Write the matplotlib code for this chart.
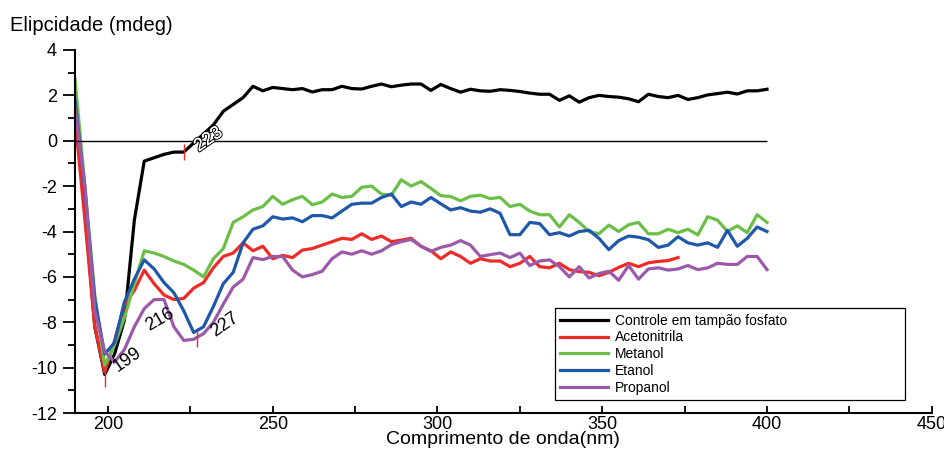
import numpy as np
import matplotlib
matplotlib.use("Agg")
import matplotlib.pyplot as plt
import matplotlib.patheffects as pe
from matplotlib.ticker import MultipleLocator

plt.rcParams['font.family'] = ['Liberation Sans', 'DejaVu Sans']
plt.rcParams['axes.unicode_minus'] = False

# wavelength grid (nm), 3 nm steps
wl = np.arange(190, 401, 3)

black = [2.0, -3.0, -8.2, -10.3, -9.4, -7.9, -3.5, -0.9, -0.75, -0.6, -0.5, -0.5, -0.1, 0.3,
         0.7, 1.3, 1.6, 1.9, 2.4, 2.2, 2.35, 2.3, 2.25, 2.3, 2.15, 2.25, 2.25, 2.4, 2.3, 2.28,
         2.4, 2.5, 2.38, 2.45, 2.5, 2.5, 2.22, 2.48, 2.3, 2.14, 2.27, 2.2, 2.18, 2.25, 2.22,
         2.17, 2.1, 2.05, 2.05, 1.78, 1.98, 1.7, 1.9, 2.0, 1.95, 1.92, 1.85, 1.72, 2.05, 1.95,
         1.9, 2.0, 1.82, 1.9, 2.02, 2.08, 2.14, 2.06, 2.2, 2.2, 2.27]
red = [1.0, -3.5, -8.2, -10.2, -8.8, -7.25, -6.6, -5.7, -6.3, -6.8, -7.0, -6.95, -6.5, -6.25,
       -5.6, -5.1, -4.95, -4.5, -4.85, -4.65, -5.2, -5.05, -5.15, -4.82, -4.75, -4.6, -4.45,
       -4.3, -4.35, -4.1, -4.35, -4.2, -4.45, -4.38, -4.3, -4.65, -4.85, -5.2, -4.9, -5.1,
       -5.4, -5.2, -5.3, -5.3, -5.55, -5.4, -5.1, -5.55, -5.6, -5.4, -5.68, -5.77, -5.8,
       -5.95, -5.8, -5.58, -5.4, -5.55, -5.38, -5.32, -5.28, -5.15]
green = [2.7, -2.0, -6.8, -9.9, -9.0, -7.8, -6.3, -4.85, -4.95, -5.1, -5.3, -5.45, -5.7, -6.0,
         -5.2, -4.75, -3.6, -3.35, -3.05, -2.9, -2.45, -2.8, -2.6, -2.45, -2.82, -2.7, -2.35,
         -2.5, -2.45, -2.05, -2.0, -2.35, -2.4, -1.72, -2.0, -1.8, -2.1, -2.42, -2.46, -2.65,
         -2.45, -2.4, -2.55, -2.5, -2.9, -2.8, -3.1, -3.26, -3.26, -3.8, -3.26, -3.6, -4.0,
         -4.1, -3.72, -4.0, -3.7, -3.6, -4.1, -4.1, -3.9, -4.05, -3.9, -4.15, -3.35, -3.5,
         -4.0, -3.75, -4.05, -3.26, -3.6]
blue = [1.8, -2.2, -7.0, -9.4, -8.9, -7.1, -6.1, -5.25, -5.65, -6.25, -6.7, -7.5, -8.45, -8.2,
        -7.3, -6.3, -5.8, -4.5, -3.9, -3.75, -3.35, -3.45, -3.4, -3.57, -3.3, -3.3, -3.4,
        -3.1, -2.8, -2.75, -2.75, -2.5, -2.35, -2.9, -2.7, -2.8, -2.5, -2.78, -3.05, -2.95,
        -3.1, -3.15, -3.0, -3.2, -4.14, -4.14, -3.6, -3.65, -4.14, -4.05, -4.2, -4.0, -3.95,
        -4.3, -4.8, -4.4, -4.2, -4.25, -4.36, -4.7, -4.6, -4.23, -4.5, -4.6, -4.5, -4.7,
        -3.95, -4.65, -4.3, -3.8, -4.0]
purple = [1.5, -2.0, -7.5, -9.3, -9.75, -9.2, -8.2, -7.4, -7.0, -7.0, -8.2, -8.8, -8.75, -8.5,
          -8.0, -7.2, -6.45, -6.1, -5.15, -5.24, -5.1, -5.1, -5.7, -6.0, -5.9, -5.75, -5.2,
          -4.9, -5.0, -4.85, -5.0, -4.85, -4.58, -4.45, -4.35, -4.65, -4.88, -4.7, -4.6,
          -4.4, -4.6, -5.1, -5.02, -4.95, -5.15, -4.95, -5.5, -5.3, -5.25, -5.55, -6.0, -5.55,
          -6.05, -5.85, -5.75, -6.15, -5.5, -6.1, -5.65, -5.6, -5.7, -5.65, -5.5, -5.68,
          -5.6, -5.4, -5.45, -5.45, -5.1, -5.1, -5.68]

labels = ["Controle em tampão fosfato", "Acetonitrila", "Metanol", "Etanol", "Propanol"]
colors = ["#000000", "#ee2b27", "#6bbf47", "#1f58a8", "#9b5aa9"]

# peak annotations
peak_txt = ["199", "216", "223", "227"]
mark_x = [199, 223, 227]
mark_y = [-10.5, -0.5, -8.75]

fig = plt.figure(figsize=(9.45, 4.5), dpi=100)
ax = fig.add_axes([0.0794, 0.0822, 0.9066, 0.8067])

series = [black, red, green, blue, purple]
for vals, lab, col in zip(series, labels, colors):
    ax.plot(wl[:len(vals)], vals, color=col, lw=2.3, label=lab, solid_joinstyle='round')

ax.hlines(0, 190, 400, color='black', lw=1)
ax.plot(mark_x, mark_y, ls='none', marker='|', color='#ee2b27', ms=11, mew=1)

# text positions (offset from the peak)
ax.text(205.8, -9.65, peak_txt[0], fontsize=13, rotation=35, ha='center', va='center')
ax.text(215.8, -7.9, peak_txt[1], fontsize=13, rotation=30, ha='center', va='center')
ax.text(235.5, -8.1, peak_txt[3], fontsize=13, rotation=35, ha='center', va='center')
t = ax.text(230.5, 0.05, peak_txt[2], fontsize=13, rotation=35, ha='center', va='center',
            color='white')
t.set_path_effects([pe.withStroke(linewidth=1.6, foreground='black'), pe.Normal()])

ax.set_xlim(190, 450)
ax.set_ylim(-12, 4)
ax.xaxis.set_major_locator(MultipleLocator(50))
ax.xaxis.set_minor_locator(MultipleLocator(25))
ax.yaxis.set_major_locator(MultipleLocator(2))
ax.yaxis.set_minor_locator(MultipleLocator(1))
for s in ['top', 'right']:
    ax.spines[s].set_visible(False)
for s in ['left', 'bottom']:
    ax.spines[s].set_linewidth(1.5)
ax.tick_params(axis='y', which='major', direction='out', length=9, width=1.3, labelsize=13, pad=4)
ax.tick_params(axis='y', which='minor', direction='out', length=5, width=1.3)
ax.tick_params(axis='x', which='major', direction='in', length=5, width=1.3, labelsize=13, pad=2)
ax.tick_params(axis='x', which='minor', direction='in', length=5, width=1.3)

ax.set_xlabel("Comprimento de onda(nm)", fontsize=14, labelpad=-1)
fig.text(0.011, 0.944, "Elipcidade (mdeg)", fontsize=14.5, ha='left', va='center')

leg = ax.legend(loc='upper left', bbox_to_anchor=(0.56, 0.055, 0.4085, 0.234), mode='expand',
                fontsize=10, frameon=True, fancybox=False, edgecolor='black', framealpha=1,
                handlelength=3.4, labelspacing=0.2, borderpad=0.4, handletextpad=0.5,
                borderaxespad=0)
leg.get_frame().set_linewidth(0.9)
for line in leg.get_lines():
    line.set_linewidth(2.3)

fig.savefig("out.png", dpi=100)
